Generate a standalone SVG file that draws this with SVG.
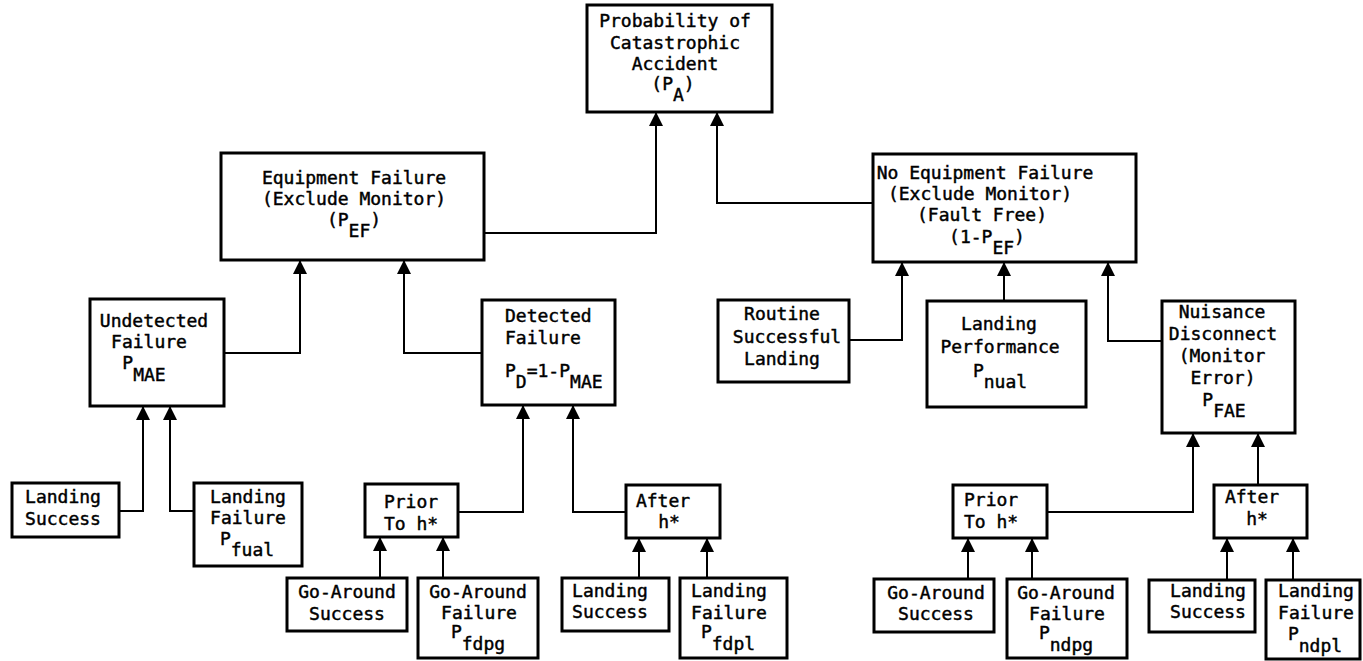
<svg xmlns="http://www.w3.org/2000/svg" width="1363" height="661" viewBox="0 0 1363 661">
  <style>
    .box { fill: #ffffff; stroke: #000000; stroke-width: 3; }
    .lbl { font-family: "DejaVu Sans Mono", "Liberation Mono", monospace; font-size: 18px; fill: #000000; stroke: #000000; stroke-width: 0.45; text-anchor: middle; }
    .lft { text-anchor: start; }
    .wire { fill: none; stroke: #000000; stroke-width: 2; }
  </style>
  <defs>
    <marker id="arrow" markerUnits="userSpaceOnUse" markerWidth="14" markerHeight="16" refX="14" refY="7" orient="auto">
      <path d="M0,0 L14,7 L0,14 Z" fill="#000000"/>
    </marker>
  </defs>
  <rect width="1363" height="661" fill="#ffffff"/>

  <!-- connectors: each runs from a child box up to its parent -->
  <g id="connectors">
    <path class="wire" marker-end="url(#arrow)" d="M484,233 H656 V112"/>
    <path class="wire" marker-end="url(#arrow)" d="M873,203 H717 V112"/>
    <path class="wire" marker-end="url(#arrow)" d="M224,353 H300 V260"/>
    <path class="wire" marker-end="url(#arrow)" d="M482,353 H404 V260"/>
    <path class="wire" marker-end="url(#arrow)" d="M849,340 H902 V262"/>
    <path class="wire" marker-end="url(#arrow)" d="M1004,301 V262"/>
    <path class="wire" marker-end="url(#arrow)" d="M1162,341 H1108 V262"/>
    <path class="wire" marker-end="url(#arrow)" d="M119,511 H143 V406"/>
    <path class="wire" marker-end="url(#arrow)" d="M194,511 H170 V406"/>
    <path class="wire" marker-end="url(#arrow)" d="M458,512 H523 V405"/>
    <path class="wire" marker-end="url(#arrow)" d="M626,512 H573 V405"/>
    <path class="wire" marker-end="url(#arrow)" d="M380,578 V537"/>
    <path class="wire" marker-end="url(#arrow)" d="M443,578 V537"/>
    <path class="wire" marker-end="url(#arrow)" d="M639,578 V538"/>
    <path class="wire" marker-end="url(#arrow)" d="M707,578 V538"/>
    <path class="wire" marker-end="url(#arrow)" d="M1047,512 H1193 V433"/>
    <path class="wire" marker-end="url(#arrow)" d="M1258,485 V433"/>
    <path class="wire" marker-end="url(#arrow)" d="M968,579 V538"/>
    <path class="wire" marker-end="url(#arrow)" d="M1032,579 V538"/>
    <path class="wire" marker-end="url(#arrow)" d="M1227,580 V538"/>
    <path class="wire" marker-end="url(#arrow)" d="M1293,580 V538"/>
  </g>

  <g id="accident">
    <rect class="box" x="587" y="5" width="185" height="107"/>
    <text class="lbl" x="675" y="27">Probability of</text>
    <text class="lbl" x="675" y="49">Catastrophic</text>
    <text class="lbl" x="675" y="70">Accident</text>
    <text class="lbl" x="673" y="90">(P<tspan dy="11">A</tspan><tspan dy="-11">)</tspan></text>
  </g>

  <g id="equipment-failure">
    <rect class="box" x="221" y="153" width="263" height="107"/>
    <text class="lbl" x="354" y="184">Equipment Failure</text>
    <text class="lbl" x="354" y="205">(Exclude Monitor)</text>
    <text class="lbl" x="354" y="226">(P<tspan dy="11">EF</tspan><tspan dy="-11">)</tspan></text>
  </g>

  <g id="no-equipment-failure">
    <rect class="box" x="873" y="154" width="263" height="108"/>
    <text class="lbl" x="985" y="179">No Equipment Failure</text>
    <text class="lbl" x="980" y="200">(Exclude Monitor)</text>
    <text class="lbl" x="982" y="221">(Fault Free)</text>
    <text class="lbl" x="987" y="243">(1-P<tspan dy="11">EF</tspan><tspan dy="-11">)</tspan></text>
  </g>

  <g id="undetected-failure">
    <rect class="box" x="90" y="299" width="134" height="107"/>
    <text class="lbl" x="154" y="327">Undetected</text>
    <text class="lbl" x="149" y="348">Failure</text>
    <text class="lbl" x="144" y="369">P<tspan dy="12">MAE</tspan></text>
  </g>

  <g id="detected-failure">
    <rect class="box" x="482" y="300" width="133" height="105"/>
    <text class="lbl lft" x="505" y="322">Detected</text>
    <text class="lbl lft" x="505" y="344">Failure</text>
    <text class="lbl lft" x="505" y="377">P<tspan dy="11">D</tspan><tspan dy="-11">=1-P</tspan><tspan dy="11">MAE</tspan></text>
  </g>

  <g id="routine-landing">
    <rect class="box" x="718" y="300" width="131" height="82"/>
    <text class="lbl" x="782" y="320">Routine</text>
    <text class="lbl" x="787" y="343">Successful</text>
    <text class="lbl" x="782" y="365">Landing</text>
  </g>

  <g id="landing-performance">
    <rect class="box" x="927" y="301" width="159" height="106"/>
    <text class="lbl" x="999" y="330">Landing</text>
    <text class="lbl" x="1000" y="353">Performance</text>
    <text class="lbl" x="1000" y="377">P<tspan dy="11">nual</tspan></text>
  </g>

  <g id="nuisance-disconnect">
    <rect class="box" x="1162" y="301" width="133" height="132"/>
    <text class="lbl" x="1222" y="318">Nuisance</text>
    <text class="lbl" x="1223" y="340">Disconnect</text>
    <text class="lbl" x="1222" y="362">(Monitor</text>
    <text class="lbl" x="1223" y="384">Error)</text>
    <text class="lbl" x="1224" y="406">P<tspan dy="11">FAE</tspan></text>
  </g>

  <g id="landing-success-1">
    <rect class="box" x="12" y="483" width="107" height="54"/>
    <text class="lbl" x="63" y="503">Landing</text>
    <text class="lbl" x="63" y="525">Success</text>
  </g>

  <g id="landing-failure-fual">
    <rect class="box" x="194" y="483" width="108" height="83"/>
    <text class="lbl" x="248" y="503">Landing</text>
    <text class="lbl" x="248" y="524">Failure</text>
    <text class="lbl" x="247" y="545">P<tspan dy="11">fual</tspan></text>
  </g>

  <g id="prior-h-1">
    <rect class="box" x="365" y="484" width="93" height="53"/>
    <text class="lbl" x="411" y="508">Prior</text>
    <text class="lbl" x="411" y="530">To h*</text>
  </g>

  <g id="after-h-1">
    <rect class="box" x="626" y="485" width="94" height="53"/>
    <text class="lbl" x="663" y="507">After</text>
    <text class="lbl" x="669" y="528">h*</text>
  </g>

  <g id="go-around-success-1">
    <rect class="box" x="287" y="578" width="120" height="53"/>
    <text class="lbl" x="347" y="598">Go-Around</text>
    <text class="lbl" x="347" y="620">Success</text>
  </g>

  <g id="go-around-failure-fdpg">
    <rect class="box" x="418" y="578" width="120" height="80"/>
    <text class="lbl" x="478" y="598">Go-Around</text>
    <text class="lbl" x="479" y="619">Failure</text>
    <text class="lbl" x="478" y="638">P<tspan dy="12">fdpg</tspan></text>
  </g>

  <g id="landing-success-2">
    <rect class="box" x="562" y="578" width="107" height="53"/>
    <text class="lbl" x="610" y="597">Landing</text>
    <text class="lbl" x="610" y="618">Success</text>
  </g>

  <g id="landing-failure-fdpl">
    <rect class="box" x="680" y="578" width="107" height="80"/>
    <text class="lbl" x="729" y="597">Landing</text>
    <text class="lbl" x="729" y="619">Failure</text>
    <text class="lbl" x="728" y="638">P<tspan dy="12">fdpl</tspan></text>
  </g>

  <g id="prior-h-2">
    <rect class="box" x="953" y="485" width="94" height="53"/>
    <text class="lbl lft" x="964" y="506">Prior</text>
    <text class="lbl lft" x="964" y="528">To h*</text>
  </g>

  <g id="after-h-2">
    <rect class="box" x="1214" y="485" width="93" height="53"/>
    <text class="lbl" x="1252" y="503">After</text>
    <text class="lbl" x="1257" y="525">h*</text>
  </g>

  <g id="go-around-success-2">
    <rect class="box" x="874" y="579" width="120" height="53"/>
    <text class="lbl" x="936" y="599">Go-Around</text>
    <text class="lbl" x="936" y="620">Success</text>
  </g>

  <g id="go-around-failure-ndpg">
    <rect class="box" x="1007" y="579" width="120" height="79"/>
    <text class="lbl" x="1066" y="599">Go-Around</text>
    <text class="lbl" x="1067" y="620">Failure</text>
    <text class="lbl" x="1066" y="639">P<tspan dy="12">ndpg</tspan></text>
  </g>

  <g id="landing-success-3">
    <rect class="box" x="1149" y="580" width="106" height="52"/>
    <text class="lbl" x="1208" y="597">Landing</text>
    <text class="lbl" x="1208" y="618">Success</text>
  </g>

  <g id="landing-failure-ndpl">
    <rect class="box" x="1266" y="580" width="94" height="79"/>
    <text class="lbl" x="1316" y="597">Landing</text>
    <text class="lbl" x="1316" y="619">Failure</text>
    <text class="lbl" x="1315" y="640">P<tspan dy="12">ndpl</tspan></text>
  </g>
</svg>
